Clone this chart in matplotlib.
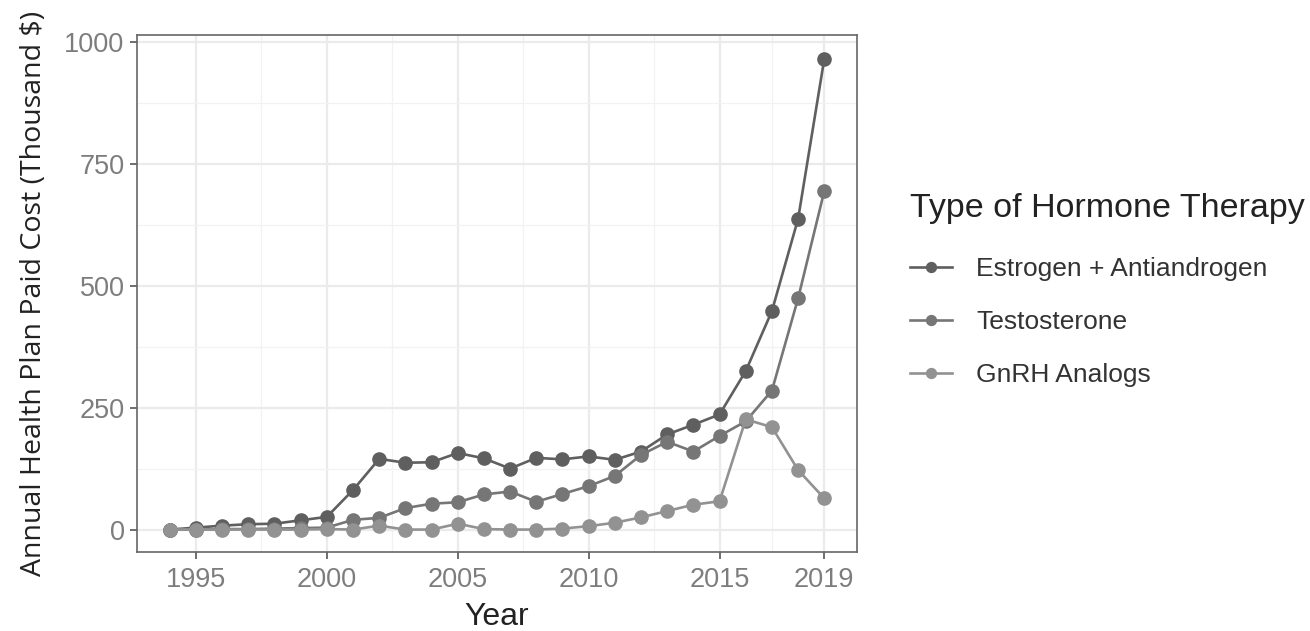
import matplotlib
matplotlib.use("Agg")
import matplotlib.pyplot as plt
from matplotlib.ticker import FixedLocator

# data (thousand $)
years = list(range(1994, 2020))
estrogen = [0, 4, 8, 11, 12, 19, 26, 81, 145, 137, 138, 157, 146, 125, 147, 144,
            150, 143, 160, 195, 215, 236, 325, 448, 637, 965]
testosterone = [0, 0, 1, 1, 2, 3, 4, 20, 24, 44, 53, 56, 72, 78, 57, 73,
                89, 110, 153, 180, 160, 192, 222, 285, 474, 694]
gnrh = [0, 0, 0, 0, 0, 0, 1, 0, 8, 0, 0, 12, 1, 0, 0, 2,
        7, 14, 25, 38, 51, 58, 226, 210, 122, 64]

series_names = ['Estrogen + Antiandrogen', 'Testosterone', 'GnRH Analogs']
colors = ['#5f5f5f', '#767676', '#929292']

x_ticks = [1995, 2000, 2005, 2010, 2015, 2019]
x_minor = [1997.5, 2002.5, 2007.5, 2012.5, 2017]
y_ticks = [0, 250, 500, 750, 1000]
y_minor = [125, 375, 625, 875]

plt.rcParams['font.family'] = ['Liberation Sans', 'DejaVu Sans']

fig = plt.figure(figsize=(13.1, 6.31), dpi=100)
ax = fig.add_axes([0.1046, 0.1252, 0.5496, 0.8193])

for vals, name, c in zip([estrogen, testosterone, gnrh], series_names, colors):
    ax.plot(years, vals, color=c, lw=1.9, marker='o', ms=9.5, label=name)

ax.set_xlim(1992.75, 2020.25)
ax.set_ylim(-46, 1014)
ax.xaxis.set_major_locator(FixedLocator(x_ticks))
ax.xaxis.set_minor_locator(FixedLocator(x_minor))
ax.yaxis.set_major_locator(FixedLocator(y_ticks))
ax.yaxis.set_minor_locator(FixedLocator(y_minor))
ax.grid(which='major', color='#ebebeb', lw=1.6)
ax.grid(which='minor', color='#f2f2f2', lw=0.9)
ax.set_axisbelow(True)
ax.tick_params(which='major', length=5, width=1.2, color='#555555',
               labelsize=19.5, labelcolor='#7d7d7d')
ax.tick_params(axis='x', pad=6)
ax.tick_params(axis='y', pad=4)
ax.tick_params(which='minor', length=0)
for s in ax.spines.values():
    s.set_color('#666666')
    s.set_linewidth(1.2)

ax.set_xlabel('Year', fontsize=23, labelpad=6, color='#222222')
ax.set_ylabel('Annual Health Plan Paid Cost (Thousand $)', fontsize=20.5,
              family=['Open Sans', 'DejaVu Sans'], labelpad=12, color='#222222')

leg = ax.legend(loc='upper left', bbox_to_anchor=(0.6947, 0.694),
                bbox_transform=fig.transFigure, frameon=False, borderpad=0,
                borderaxespad=0, title='Type of Hormone Therapy',
                title_fontsize=24.5, fontsize=19, handlelength=1.6,
                handletextpad=0.9, labelspacing=1.1, markerscale=0.75)
leg._legend_box.align = 'left'
leg._legend_box.sep = 24
leg.get_title().set_color('#222222')
for t in leg.get_texts():
    t.set_color('#333333')

fig.savefig('out.png', dpi=100)
